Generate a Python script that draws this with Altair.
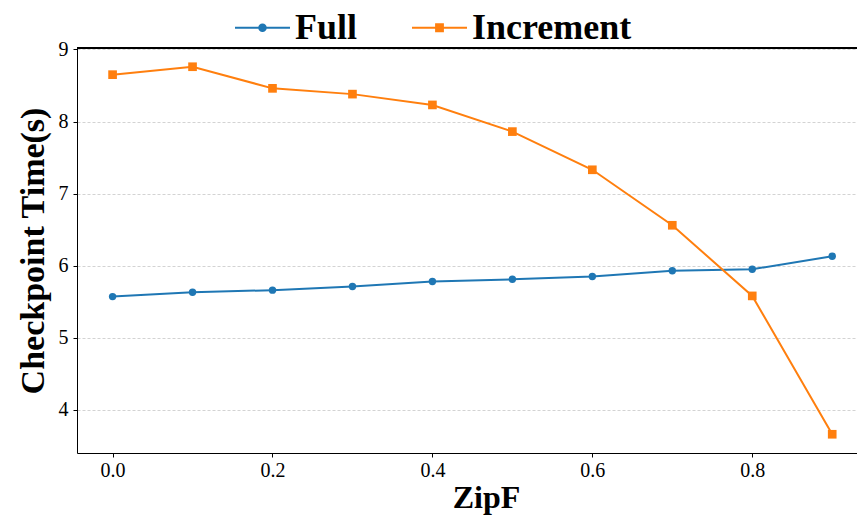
import altair as alt
import pandas as pd

# ---- data ----
zipf = [0.0, 0.1, 0.2, 0.3, 0.4, 0.5, 0.6, 0.7, 0.8, 0.9]
full = [5.57, 5.63, 5.66, 5.71, 5.78, 5.81, 5.85, 5.93, 5.95, 6.13]
increment = [8.65, 8.76, 8.46, 8.38, 8.23, 7.86, 7.33, 6.56, 5.58, 3.66]
series_names = ["Full", "Increment"]
series_colors = ["#1f77b4", "#ff7f0e"]
x_ticks = [0.0, 0.2, 0.4, 0.6, 0.8]
y_ticks = [4, 5, 6, 7, 8, 9]

df = pd.DataFrame({
    "ZipF": zipf + zipf,
    "Time": full + increment,
    "Series": [series_names[0]] * len(zipf) + [series_names[1]] * len(zipf),
})

W, H = 780, 405
FONT = "Liberation Serif"

xscale = alt.Scale(domain=[-0.0445, 0.931], nice=False, zero=False)
yscale = alt.Scale(domain=[3.40, 9.02], nice=False, zero=False)

x_axis = alt.Axis(values=x_ticks, format=".1f", title="ZipF", grid=False,
                  labelFont=FONT, labelFontSize=20, labelColor="black", labelPadding=3,
                  tickSize=4, tickColor="black", domainColor="black", domainWidth=1,
                  titleFont=FONT, titleFontSize=32, titleFontWeight="bold",
                  titleColor="black", titleX=409, titleY=54, titleAlign="center",
                  titleBaseline="alphabetic")
y_axis = alt.Axis(values=y_ticks, format="d", title="Checkpoint Time(s)", grid=True,
                  gridColor="#c8c8c8", gridDash=[3, 2], gridWidth=0.8,
                  labelFont=FONT, labelFontSize=20, labelColor="black", labelPadding=5,
                  tickSize=4, tickColor="black", domainColor="black", domainWidth=1,
                  titleFont=FONT, titleFontSize=34, titleFontWeight="bold",
                  titleColor="black", titlePadding=8)

X = alt.X("ZipF:Q", scale=xscale, axis=x_axis)
Y = alt.Y("Time:Q", scale=yscale, axis=y_axis)

layers = []
marker_shapes = ["circle", "square"]
marker_sizes = [55, 75]
for name, col, shp, sz in zip(series_names, series_colors, marker_shapes, marker_sizes):
    sub = alt.Chart(df).transform_filter(alt.datum.Series == name)
    layers.append(sub.mark_line(color=col, strokeWidth=2).encode(x=X, y=Y))
    layers.append(sub.mark_point(color=col, shape=shp, size=sz, filled=True, opacity=1).encode(x=X, y=Y))

# legend symbols: a line segment with the marker on top
line_seg = "M-1,-0.036H1V0.036H-1Z"
circ = "M0.155,0A0.155,0.155,0,1,1,-0.155,0A0.155,0.155,0,1,1,0.155,0Z"
sq = "M-0.16,-0.16H0.16V0.16H-0.16Z"
legend_layer = alt.Chart(df).transform_filter("false").mark_point(
    filled=True, size=3025, opacity=1).encode(
    x=X, y=Y,
    color=alt.Color("Series:N", scale=alt.Scale(domain=series_names, range=series_colors),
                    legend=alt.Legend(title=None)),
    shape=alt.Shape("Series:N", scale=alt.Scale(domain=series_names,
                                                range=[line_seg + circ, line_seg + sq]),
                    legend=alt.Legend(title=None)),
)

top_border = alt.Chart(df).mark_rule(color="black", strokeWidth=1).encode(
    x=alt.value(0), x2=alt.value(W), y=alt.value(0))

chart = alt.layer(*layers, legend_layer, top_border).properties(
    width=W, height=H,
    autosize=alt.AutoSizeParams(type="none"),
    padding={"left": 77, "top": 48, "right": 0, "bottom": 65},
).configure_view(stroke=None).configure_legend(
    orient="none", legendX=158, legendY=-48, direction="horizontal",
    labelFont=FONT, labelFontSize=36, labelFontWeight="bold", labelColor="black",
    symbolSize=3025, symbolStrokeWidth=0, labelOffset=5, columnPadding=54,
    padding=0, offset=0,
)

chart.save("out.html", embed_options={"renderer": "svg", "actions": False})
